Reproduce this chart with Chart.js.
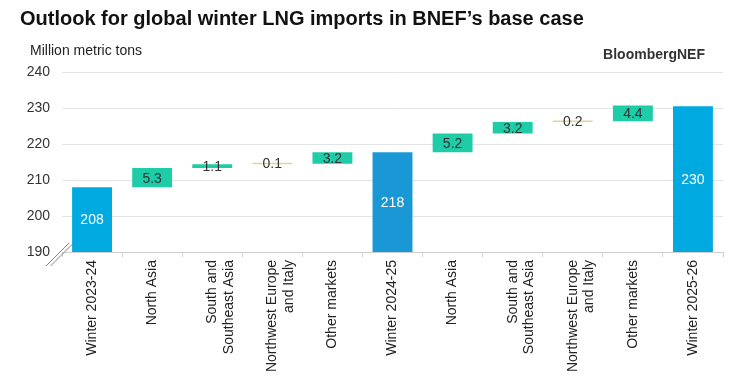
<!DOCTYPE html>
<html>
<head>
<meta charset="utf-8">
<script src="https://cdn.jsdelivr.net/npm/chart.js@4.4.1/dist/chart.umd.min.js"></script>
<style>
  html, body { margin: 0; padding: 0; background: #fff; }
  body { width: 750px; height: 380px; position: relative; overflow: hidden; font-family: "Liberation Sans", Arial, sans-serif; }
  #title { position: absolute; left: 20px; top: 7px; font-size: 20px; font-weight: bold; color: #111; white-space: nowrap; }
  #unit { position: absolute; left: 30px; top: 42px; font-size: 14px; color: #222; }
  #brand { position: absolute; right: 45px; top: 46px; font-size: 14px; font-weight: bold; color: #333; }
  #wrap { position: absolute; left: 0; top: 0; width: 750px; height: 380px; }
</style>
</head>
<body>
<div id="wrap"><canvas id="c" width="750" height="380"></canvas></div>
<div id="title">Outlook for global winter LNG imports in BNEF’s base case</div>
<div id="unit">Million metric tons</div>
<div id="brand">BloombergNEF</div>
<script>
// ---- data ----
const categories = [
  "Winter 2023-24", ["North Asia"], ["South and", "Southeast Asia"], ["Northwest Europe", "and Italy"], ["Other markets"],
  "Winter 2024-25", ["North Asia"], ["South and", "Southeast Asia"], ["Northwest Europe", "and Italy"], ["Other markets"],
  "Winter 2025-26"
];
const kinds = ["total", "delta", "delta", "delta", "delta", "total", "delta", "delta", "delta", "delta", "total"];
const values = [208.0, 5.3, 1.1, 0.1, 3.2, 217.7, 5.2, 3.2, 0.2, 4.4, 230.5];
const valueLabels = ["208", "5.3", "1.1", "0.1", "3.2", "218", "5.2", "3.2", "0.2", "4.4", "230"];
const yTicks = [190, 200, 210, 220, 230, 240];
const axisMin = 190;

// ---- colours ----
const colors = ["#00A9E0", "#1FCCA8", "#1FCCA8", "#E3D49C", "#1FCCA8", "#1A98D6", "#1FCCA8", "#1FCCA8", "#E3D49C", "#1FCCA8", "#00A9E0"];
const labelColors = ["#ffffff", "#333", "#333", "#333", "#333", "#ffffff", "#333", "#333", "#333", "#333", "#ffffff"];

// build floating ranges
const ranges = [];
let running = 0;
for (let i = 0; i < values.length; i++) {
  if (kinds[i] === "total") { ranges.push([axisMin, values[i]]); running = values[i]; }
  else { ranges.push([running, running + values[i]]); running += values[i]; }
}

const labelPlugin = {
  id: "labels",
  afterDatasetsDraw(chart) {
    const ctx = chart.ctx;
    const meta = chart.getDatasetMeta(0);
    ctx.save();
    ctx.font = '14px "Liberation Sans", Arial, sans-serif';
    ctx.textAlign = "center";
    ctx.textBaseline = "middle";
    meta.data.forEach((bar, i) => {
      const p = bar.getProps(["x", "y", "base"], true);
      const cy = (p.y + p.base) / 2 + 1;
      ctx.fillStyle = labelColors[i];
      ctx.fillText(valueLabels[i], p.x, cy);
    });
    ctx.restore();
  }
};

const breakPlugin = {
  id: "axisBreak",
  afterDraw(chart) {
    const ctx = chart.ctx;
    const a = chart.chartArea;
    ctx.save();
    ctx.strokeStyle = "#777";
    ctx.lineWidth = 0.9;
    for (const dx of [0, 4.5]) {
      ctx.beginPath();
      ctx.moveTo(a.left - 16 + dx, a.bottom + 14);
      ctx.lineTo(a.left + 7 + dx, a.bottom - 9);
      ctx.stroke();
    }
    ctx.restore();
  }
};

new Chart(document.getElementById("c"), {
  type: "bar",
  data: {
    labels: categories,
    datasets: [{
      data: ranges,
      backgroundColor: colors,
      borderWidth: 0,
      barPercentage: 0.8,
      categoryPercentage: 0.83,
      minBarLength: 1.5
    }]
  },
  options: {
    responsive: false,
    animation: false,
    events: [],
    layout: { padding: { top: 72, right: 27, left: 0, bottom: 0 } },
    plugins: { legend: { display: false }, tooltip: { enabled: false }, title: { display: false } },
    scales: {
      x: {
        afterFit(scale) { scale.height = 128; },
        grid: { display: true, drawOnChartArea: false, drawTicks: true, tickLength: 5, color: "#d0d0d0", offset: true },
        border: { display: true, color: "#cfcfcf", width: 1 },
        ticks: {
          autoSkip: false, minRotation: 90, maxRotation: 90, padding: 3,
          color: "#222", font: { family: '"Liberation Sans", Arial, sans-serif', size: 14 }
        }
      },
      y: {
        min: 190, max: 240,
        afterFit(scale) { scale.width = 62; },
        afterBuildTicks(scale) { scale.ticks = yTicks.map(v => ({ value: v })); },
        grid: { color: "#e4e4e4", drawTicks: false },
        border: { display: false },
        ticks: {
          padding: 12, color: "#333",
          font: { family: '"Liberation Sans", Arial, sans-serif', size: 14 }
        }
      }
    }
  },
  plugins: [labelPlugin, breakPlugin]
});
</script>
</body>
</html>
